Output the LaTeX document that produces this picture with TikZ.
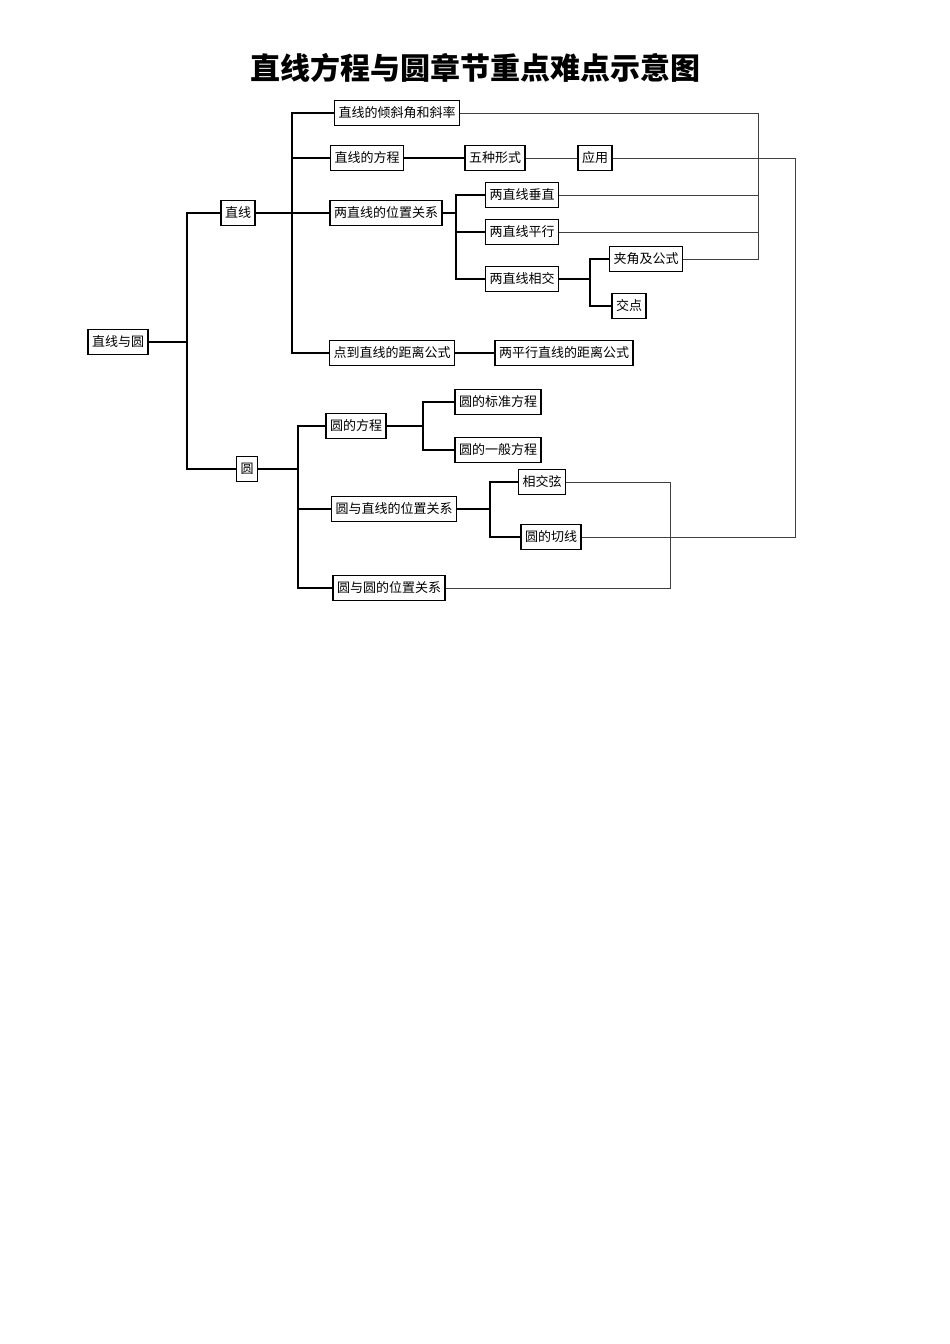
\documentclass[tikz,border=0pt]{standalone}
\usepackage{fontspec}
\setmainfont{Noto Sans CJK SC}
\begin{document}
\begin{tikzpicture}[x=1pt,y=-1pt,
  box/.style={draw=black,line width=1.3pt,fill=white,minimum height=25pt,inner xsep=4pt,inner ysep=2pt,font=\fontsize{13}{15}\selectfont},
  tree/.style={line width=1.6pt,black},
  link/.style={line width=0.7pt,black!75}]
\useasboundingbox (0,0) rectangle (950,1344);
\node[font=\bfseries\fontsize{30}{34}\selectfont] (title) at (475,68) {直线方程与圆章节重点难点示意图};
\node[box] (root) at (118,342) {直线与圆};
\node[box] (zx) at (238,213) {直线};
\node[box] (yuan) at (247,469) {圆};
\node[box] (qx) at (397,113) {直线的倾斜角和斜率};
\node[box] (fc) at (367,158) {直线的方程};
\node[box] (wz) at (495,158) {五种形式};
\node[box] (yy) at (595,158) {应用};
\node[box] (wz2) at (386,213) {两直线的位置关系};
\node[box] (cz) at (522,195) {两直线垂直};
\node[box] (px) at (522,232) {两直线平行};
\node[box] (xj) at (522,279) {两直线相交};
\node[box] (jj) at (646,259) {夹角及公式};
\node[box] (jd) at (629,306) {交点};
\node[box] (dj) at (392,353) {点到直线的距离公式};
\node[box] (pj) at (564,353) {两平行直线的距离公式};
\node[box] (yf) at (356,426) {圆的方程};
\node[box] (bz) at (498,402) {圆的标准方程};
\node[box] (yb) at (498,450) {圆的一般方程};
\node[box] (yz) at (394,509) {圆与直线的位置关系};
\node[box] (xx) at (542,482) {相交弦};
\node[box] (qxn) at (551,537) {圆的切线};
\node[box] (yy2) at (389,588) {圆与圆的位置关系};
\begin{scope}[on background layer/.style={}]
\end{scope}
% tree connectors
\draw[tree] (root.east) -- (187,342);
\draw[tree] (zx.west) -| (187,469) -- (yuan.west);
\draw[tree] (zx.east) -- (wz2.west);
\draw[tree] (qx.west) -| (292,353) -- (dj.west);
\draw[tree] (fc.west) -- (292,158);
\draw[tree] (wz2.east) -- (456,213);
\draw[tree] (cz.west) -| (456,279) -- (xj.west);
\draw[tree] (px.west) -- (456,232);
\draw[tree] (xj.east) -- (590,279);
\draw[tree] (jj.west) -| (590,306) -- (jd.west);
\draw[tree] (dj.east) -- (pj.west);
\draw[tree] (fc.east) -- (wz.west);
\draw[link] (wz.east) -- (yy.west);
\draw[tree] (yuan.east) -- (298,469);
\draw[tree] (yf.west) -| (298,588) -- (yy2.west);
\draw[tree] (yz.west) -- (298,509);
\draw[tree] (yf.east) -- (423,426);
\draw[tree] (bz.west) -| (423,450) -- (yb.west);
\draw[tree] (yz.east) -- (490,509);
\draw[tree] (xx.west) -| (490,537) -- (qxn.west);
% cross links
\draw[link] (qx.east) -| (758,259) -- (jj.east);
\draw[link] (cz.east) -- (758,195);
\draw[link] (px.east) -- (758,232);
\draw[link] (yy.east) -| (795,537) -- (qxn.east);
\draw[link] (xx.east) -| (670,588) -- (yy2.east);
\end{tikzpicture}
\end{document}
